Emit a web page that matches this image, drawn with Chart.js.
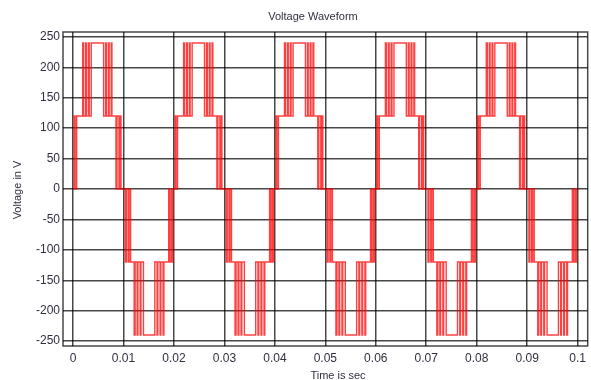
<!DOCTYPE html>
<html>
<head>
<meta charset="utf-8">
<script src="https://cdn.jsdelivr.net/npm/chart.js@4"></script>
<style>
  html, body { margin: 0; padding: 0; background: #ffffff; }
  #wrap { width: 591px; height: 380px; }
</style>
</head>
<body>
<div id="wrap"><canvas id="c" width="591" height="380"></canvas></div>
<script>
// ---- data (times in milliseconds) ----
const halfCycleStartsMs = [0, 10, 20, 30, 40, 50, 60, 70, 80, 90];
const endTimeMs = 100;

// positive half-cycle switching instants (relative to half start) and level after each switch
const posSwitchMs = [0.20, 0.40, 0.70, 0.85,
                     1.90, 2.10, 2.50, 2.65, 3.05, 3.20, 3.60,
                     6.05, 6.45, 6.60, 7.00, 7.15, 7.55, 7.70, 8.00,
                     8.50, 8.70, 9.10, 9.30, 9.50];
const posLevels   = [120, 0, 120, 120,
                     240, 120, 240, 120, 240, 120, 240,
                     120, 240, 120, 240, 120, 240, 120, 120,
                     0, 120, 0, 120, 0];

// negative half-cycle switching instants and levels
const negSwitchMs = [0.35, 0.55, 0.90, 1.10, 1.40,
                     2.10, 2.30, 2.70, 2.85, 3.30, 3.45, 3.95,
                     6.20, 6.65, 6.80, 7.25, 7.40, 7.85, 8.00, 8.20,
                     8.95, 9.15, 9.45, 9.60, 9.75];
const negLevels   = [-120, 0, -120, 0, -120,
                     -240, -120, -240, -120, -240, -120, -240,
                     -120, -240, -120, -240, -120, -240, -120, -120,
                     0, -120, 0, -120, 0];

const xTickValues = [0, 0.01, 0.02, 0.03, 0.04, 0.05, 0.06, 0.07, 0.08, 0.09, 0.1];
const xTickLabels = ['0', '0.01', '0.02', '0.03', '0.04', '0.05', '0.06', '0.07', '0.08', '0.09', '0.1'];
const yTickValues = [-250, -200, -150, -100, -50, 0, 50, 100, 150, 200, 250];
const yTickLabels = ['-250', '-200', '-150', '-100', '-50', '0', '50', '100', '150', '200', '250'];

const titleText = 'Voltage Waveform';
const xTitleText = 'Time is sec';
const yTitleText = 'Voltage in V';

// ---- build the stepped waveform ----
const points = [{ x: 0, y: 0 }];
halfCycleStartsMs.forEach((start, i) => {
  const sw = (i % 2 === 0) ? posSwitchMs : negSwitchMs;
  const lv = (i % 2 === 0) ? posLevels : negLevels;
  sw.forEach((t, k) => points.push({ x: (start + t) / 1000, y: lv[k] }));
});
points.push({ x: endTimeMs / 1000, y: 0 });

const textColor = '#2f3040';
const gridColor = 'rgba(0,0,0,0.72)';
const fontFamily = "'Liberation Sans', Arial, sans-serif";

const framePlugin = {
  id: 'framePlugin',
  afterDraw(chart) {
    const ctx = chart.ctx;
    const a = chart.chartArea;
    ctx.save();
    ctx.strokeStyle = gridColor;
    ctx.lineWidth = 1.5;
    ctx.strokeRect(a.left, a.top, a.right - a.left, a.bottom - a.top);
    ctx.fillStyle = textColor;
    ctx.textAlign = 'center';
    ctx.textBaseline = 'middle';
    ctx.font = '11px ' + fontFamily;
    ctx.fillText(titleText, 313, 17);
    ctx.fillText(xTitleText, 338, 376);
    ctx.translate(18, 190);
    ctx.rotate(-Math.PI / 2);
    ctx.fillText(yTitleText, 0, 0);
    ctx.restore();
  }
};

new Chart(document.getElementById('c'), {
  type: 'line',
  data: {
    datasets: [{
      data: points,
      borderColor: 'rgba(255,0,0,0.75)',
      borderWidth: 1.4,
      pointRadius: 0,
      stepped: true,
      tension: 0,
      fill: false
    }]
  },
  options: {
    responsive: false,
    animation: false,
    devicePixelRatio: 1,
    layout: { padding: { top: 32, right: 3, left: 0, bottom: 0 } },
    plugins: {
      legend: { display: false },
      title: { display: false },
      tooltip: { enabled: false }
    },
    scales: {
      x: {
        type: 'linear',
        min: -0.002,
        max: 0.102,
        afterBuildTicks(scale) { scale.ticks = xTickValues.map(v => ({ value: v })); },
        afterFit(scale) { scale.height = 34; },
        ticks: {
          autoSkip: false,
          maxRotation: 0,
          padding: 5,
          color: textColor,
          font: { family: fontFamily, size: 12 },
          callback: (v, i) => xTickLabels[i]
        },
        grid: { color: gridColor, lineWidth: 1.5, drawTicks: false },
        border: { display: false }
      },
      y: {
        type: 'linear',
        min: -258,
        max: 258,
        afterBuildTicks(scale) { scale.ticks = yTickValues.map(v => ({ value: v })); },
        afterFit(scale) { scale.width = 63; },
        ticks: {
          autoSkip: false,
          padding: 3,
          color: textColor,
          font: { family: fontFamily, size: 12 },
          callback: (v, i) => yTickLabels[i]
        },
        grid: { color: gridColor, lineWidth: 1.5, drawTicks: false },
        border: { display: false }
      }
    }
  },
  plugins: [framePlugin]
});
</script>
</body>
</html>
